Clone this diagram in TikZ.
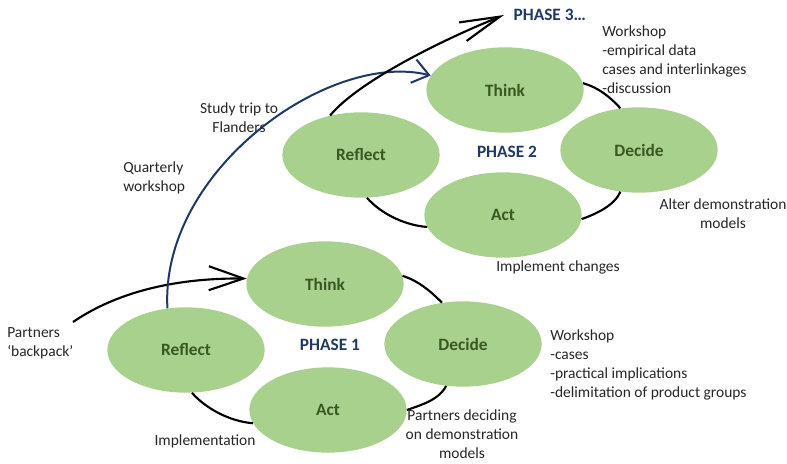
\documentclass[tikz,border=0pt]{standalone}
\usepackage{fontspec}
\setmainfont{Carlito}
\usetikzlibrary{arrows.meta,shapes.geometric}
\definecolor{leaf}{HTML}{A9D18E}
\definecolor{leaftext}{HTML}{385723}
\definecolor{navy}{HTML}{1F3864}
\definecolor{txt}{HTML}{262626}
\begin{document}
\begin{tikzpicture}[x=0.75pt,y=-0.75pt,
  stage/.style={ellipse, fill=leaf, inner sep=0pt, minimum width=118pt, minimum height=64pt,
    text=leaftext, font=\fontsize{13}{15}\selectfont\bfseries},
  phaselabel/.style={text=navy, font=\fontsize{13}{15}\selectfont\bfseries, inner sep=0pt},
  note/.style={text=txt, font=\fontsize{11.6}{14.2}\selectfont, inner sep=0pt},
  cyc/.style={draw=black, line width=1.6pt},
  bigarrow/.style={draw=black, line width=1.6pt},
  bluearrow/.style={draw=navy, line width=1.5pt}]
\useasboundingbox (0,0) rectangle (787,463);

% Phase 1 stages
\node[stage] (think1) at (325,284) {Think};
\node[stage] (reflect1) at (186,350) {Reflect};
\node[stage] (decide1) at (463,344) {Decide};
\node[stage] (act1) at (328,410) {Act};
% Phase 2 stages
\node[stage] (think2) at (505,90) {Think};
\node[stage] (reflect2) at (361,155) {Reflect};
\node[stage] (decide2) at (639,150) {Decide};
\node[stage] (act2) at (503,215) {Act};

% Phase labels
\node[phaselabel] (p1) at (330,345) {PHASE 1};
\node[phaselabel] (p2) at (507,152) {PHASE 2};
\node[phaselabel, anchor=west, inner xsep=7pt] (p3) at (504,15) {PHASE 3…};

% cycle arcs phase 1
\draw[cyc] (think1.6) .. controls +(16,5) and +(-12,-12) .. (decide1.117);
\draw[cyc] (decide1.-112) .. controls +(-7,14) and +(14,-5) .. (act1.0);
\draw[cyc] (act1.-170) .. controls +(-25,-2) and +(12,14) .. (reflect1.-82);
% cycle arcs phase 2
\draw[cyc] (think2.5) .. controls +(15,4) and +(-10,-11) .. (decide2.114);
\draw[cyc] (decide2.-114) .. controls +(-6,14) and +(14,-5) .. (act2.-3);
\draw[cyc] (act2.-171) .. controls +(-25,-2) and +(12,14) .. (reflect2.-82);

% arrows
\coordinate (bpstart) at (73,322);
\draw[bigarrow, -{Straight Barb[length=26pt,width=18pt]}] (bpstart) .. controls (120,290) and (180,278) .. (think1.176);
\draw[bluearrow, -{Straight Barb[length=12pt,width=18pt]}] (reflect1.114) .. controls (160,170) and (330,50) .. (think2.169);
\draw[bigarrow, -{Straight Barb[length=30pt,width=15pt]}] (reflect2.128) .. controls (355,85) and (430,45) .. (p3.west);

% notes
\node[note, anchor=west, align=left] (n1) at (602,59.5) {Workshop\\-empirical data\\cases and interlinkages\\-discussion};
\node[note, align=center] (n2) at (723,214) {Alter demonstration\\models};
\node[note] (n3) at (558,267) {Implement changes};
\node[note, anchor=west, align=left] (n4) at (550,365) {Workshop\\-cases\\-practical implications\\-delimitation of product groups};
\node[note, align=center] (n5) at (462,434.5) {Partners deciding\\on demonstration\\models};
\node[note] (n6) at (205,441) {Implementation};
\node[note, anchor=west, align=left] (n7) at (7,343) {Partners\\‘backpack’};
\node[note, anchor=west, align=left] (n8) at (123,177.5) {Quarterly\\workshop};
\node[note, align=center] (n9) at (239,118) {Study trip to\\Flanders};
\end{tikzpicture}
\end{document}
